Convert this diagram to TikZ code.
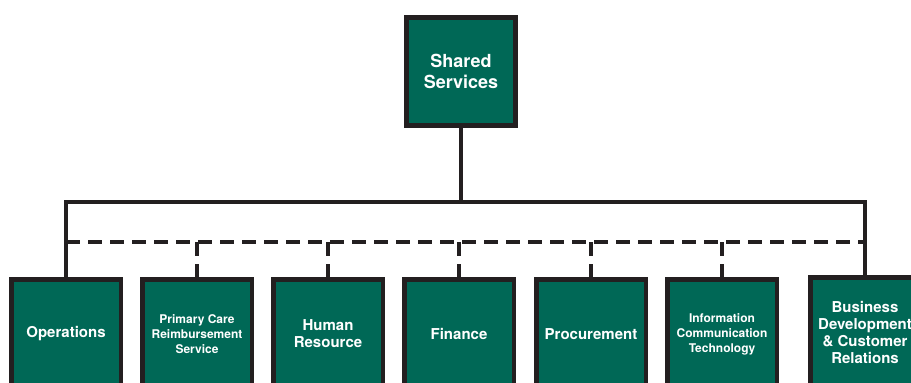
\documentclass[tikz,border=0pt]{standalone}
\usepackage{fontspec}
\setmainfont{TeX Gyre Heros}
\definecolor{unitgreen}{RGB}{0,104,86}
\definecolor{linedark}{RGB}{35,31,32}

\begin{document}
\begin{tikzpicture}[x=1pt,y=1pt]
		\tikzstyle{every node}+=[inner sep=0pt]
		\tikzstyle{unit}=[draw=linedark, fill=unitgreen, line width=4.5pt, minimum width=109.5pt, minimum height=109.5pt, text=white, align=center, font=\bfseries\fontsize{15}{17}\selectfont]
		\tikzstyle{smalltext}=[font=\bfseries\fontsize{12}{15}\selectfont]
		\tikzstyle{link}=[draw=linedark, line width=4pt]
		\tikzstyle{dotlink}=[link, dash pattern=on 14pt off 8pt]
		\path [use as bounding box, clip] (0,0) rectangle (911,-383);
		% head of the group
		\node [unit, line width=5pt, minimum width=109pt, minimum height=108pt, font=\bfseries\fontsize{18}{21}\selectfont] (shared) at (461,-71.5) {Shared\\Services};
		% departments
		\node [unit] (ops) at (66,-334) {Operations};
		\node [unit, smalltext] (pcrs) at (197,-334) {Primary Care\\Reimbursement\\Service};
		\node [unit] (hr) at (328,-334) {Human\\Resource};
		\node [unit] (fin) at (459,-334) {Finance};
		\node [unit] (proc) at (591,-334) {Procurement};
		\node [unit, smalltext] (ict) at (722,-334) {Information\\Communication\\Technology};
		\node [unit] (bdcr) at (865,-332) {Business\\Development\\\& Customer\\Relations};
		% connectors
		\coordinate (bus) at (0,-202);
		\coordinate (dbus) at (0,-242);
		\draw [link] (shared.south) -- (shared.south |- bus);
		\draw [link] (ops.north) -- (ops.north |- bus) -- (bdcr.north |- bus) -- (bdcr.north);
		\draw [dotlink] (ops.north |- dbus) -- (bdcr.north |- dbus);
		\foreach \n in {pcrs,hr,fin,proc,ict}
			\draw [dotlink] (\n.north |- dbus) -- (\n.north);
	\end{tikzpicture}
\end{document}
